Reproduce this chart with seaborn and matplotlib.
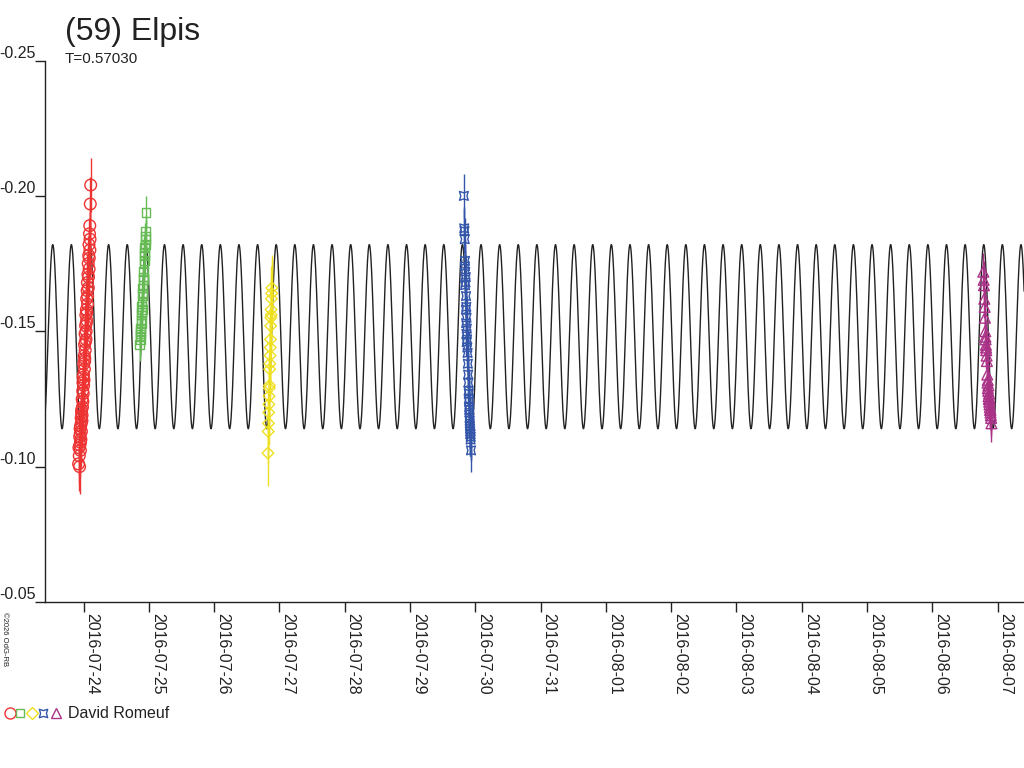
import numpy as np
import pandas as pd
import matplotlib
matplotlib.use("Agg")
import matplotlib.pyplot as plt
from matplotlib.path import Path
from matplotlib.lines import Line2D
import seaborn as sns

# Lightcurve of (59) Elpis - times in days from 2016-07-24 00:00 UT, relative magnitudes
base_date = pd.Timestamp("2016-07-24")
period = 0.57030
observer = "David Romeuf"

# model (2nd harmonic dominated fit)
model_mean = -0.148
model_amp = 0.034
model_epoch = 0.0995

red_t = [-0.075, -0.065, -0.060, -0.055, -0.050, -0.047, -0.044, -0.040, -0.036, -0.032,
         -0.028, -0.024, -0.020, -0.016, -0.012, -0.008, -0.004, 0.000, 0.004, 0.008,
         0.012, 0.016, 0.020, 0.024, 0.028, 0.032, 0.036, 0.040, 0.044, 0.048,
         0.052, 0.056, 0.060, 0.064, 0.068, 0.072, 0.076, 0.080, 0.084, 0.088,
         0.092, 0.096, 0.100, 0.104, 0.110,
         -0.070, -0.058, -0.046, -0.034, -0.022, -0.010, 0.002, 0.014, 0.026, 0.038,
         0.050, 0.062, 0.074, 0.086, 0.098, -0.052, -0.030, -0.006, 0.018, 0.042]
red_mag = [-0.101, -0.104, -0.100, -0.108, -0.112, -0.106, -0.115, -0.110, -0.118, -0.113,
           -0.121, -0.117, -0.125, -0.122, -0.128, -0.131, -0.127, -0.134, -0.138, -0.132,
           -0.141, -0.145, -0.140, -0.149, -0.146, -0.152, -0.156, -0.150, -0.158, -0.162,
           -0.157, -0.165, -0.168, -0.163, -0.171, -0.175, -0.170, -0.178, -0.182, -0.177,
           -0.186, -0.189, -0.184, -0.197, -0.204,
           -0.107, -0.111, -0.109, -0.116, -0.119, -0.124, -0.130, -0.136, -0.143, -0.147,
           -0.154, -0.160, -0.166, -0.173, -0.180, -0.114, -0.120, -0.133, -0.139, -0.153]

green_t = [0.860, 0.864, 0.868, 0.872, 0.876, 0.880, 0.884, 0.888, 0.892, 0.896,
           0.900, 0.904, 0.908, 0.912, 0.916, 0.920, 0.924, 0.928, 0.932, 0.936,
           0.940, 0.944, 0.948, 0.952, 0.958, 0.870, 0.890, 0.910, 0.930, 0.950]
green_mag = [-0.145, -0.148, -0.147, -0.151, -0.150, -0.154, -0.156, -0.153, -0.159, -0.161,
             -0.158, -0.164, -0.166, -0.163, -0.169, -0.172, -0.170, -0.175, -0.178, -0.176,
             -0.181, -0.184, -0.182, -0.187, -0.194, -0.149, -0.157, -0.167, -0.179, -0.185]

yellow_t = [2.825, 2.829, 2.833, 2.836, 2.839, 2.842, 2.845, 2.848, 2.851, 2.854,
            2.857, 2.860, 2.863, 2.866, 2.869, 2.872, 2.875, 2.878, 2.881, 2.885]
yellow_mag = [-0.105, -0.113, -0.116, -0.120, -0.123, -0.126, -0.129, -0.130, -0.136, -0.138,
              -0.141, -0.144, -0.147, -0.152, -0.155, -0.158, -0.156, -0.162, -0.164, -0.166]

blue_t = [5.825, 5.830, 5.834, 5.838, 5.842, 5.846, 5.850, 5.854, 5.858, 5.862,
          5.866, 5.870, 5.874, 5.878, 5.882, 5.886, 5.890, 5.894, 5.898, 5.902,
          5.906, 5.910, 5.914, 5.918, 5.922, 5.926, 5.930, 5.934,
          5.840, 5.844, 5.856, 5.860, 5.864, 5.868, 5.900, 5.904, 5.908, 5.912,
          5.916, 5.920, 5.924, 5.928]
blue_mag = [-0.200, -0.188, -0.187, -0.184, -0.176, -0.172, -0.168, -0.170, -0.163, -0.159,
            -0.155, -0.151, -0.147, -0.144, -0.142, -0.138, -0.134, -0.131, -0.128, -0.125,
            -0.122, -0.120, -0.117, -0.115, -0.113, -0.112, -0.111, -0.106,
            -0.174, -0.167, -0.158, -0.153, -0.149, -0.146, -0.127, -0.124, -0.121, -0.118,
            -0.116, -0.114, -0.112, -0.110]

magenta_t = [13.780, 13.785, 13.790, 13.795, 13.800, 13.805, 13.810, 13.815, 13.820, 13.825,
             13.830, 13.835, 13.840, 13.845, 13.850, 13.855, 13.860, 13.865, 13.870, 13.875,
             13.880, 13.885, 13.890, 13.895, 13.900, 13.905,
             13.812, 13.822, 13.848, 13.858, 13.868, 13.878, 13.888]
magenta_mag = [-0.172, -0.169, -0.167, -0.162, -0.159, -0.155, -0.150, -0.147, -0.145, -0.143,
               -0.141, -0.139, -0.134, -0.131, -0.129, -0.128, -0.126, -0.125, -0.124, -0.123,
               -0.122, -0.121, -0.120, -0.119, -0.118, -0.116,
               -0.148, -0.144, -0.132, -0.130, -0.127, -0.125, -0.121]

red_err, green_err, yellow_err, blue_err, magenta_err = 0.010, 0.006, 0.012, 0.008, 0.007

y_ticks = [-0.25, -0.20, -0.15, -0.10, -0.05]
tick_days = pd.date_range("2016-07-24", "2016-08-07", freq="D")

# custom notched-square marker for the blue session
pinch = Path([(-1, -1), (0, -0.7), (1, -1), (0.7, 0), (1, 1), (0, 0.7), (-1, 1), (-0.7, 0), (-1, -1)],
             [Path.MOVETO] + [Path.LINETO] * 7 + [Path.CLOSEPOLY])

sessions = [
    (red_t, red_mag, red_err, "#ee3333", "o", 70),
    (green_t, green_mag, green_err, "#66bb55", "s", 40),
    (yellow_t, yellow_mag, yellow_err, "#eee020", "D", 35),
    (blue_t, blue_mag, blue_err, "#3355aa", pinch, 40),
    (magenta_t, magenta_mag, magenta_err, "#aa3388", "^", 60),
]

sns.set_theme(style="white")
plt.rcParams["font.family"] = ["Liberation Sans", "DejaVu Sans"]

fig = plt.figure(figsize=(10.24, 7.68), dpi=100)
ax = fig.add_axes([45 / 1024, 166 / 768, 1 - 45 / 1024, 541.5 / 768])

# model curve
curve_t = np.linspace(-0.6, 14.45, 4000)
curve_mag = model_mean - model_amp * np.cos(4 * np.pi * (curve_t - model_epoch) / period)
sns.lineplot(x=curve_t, y=curve_mag, color="#222222", lw=1, ax=ax, sort=False, estimator=None)

for t, m, err, col, mk, size in sessions:
    ax.errorbar(t, m, yerr=err, fmt="none", ecolor=col, elinewidth=1, capsize=0, zorder=3)
    sns.scatterplot(x=t, y=m, marker=mk, s=size, color=col, facecolor="none",
                    edgecolor=col, linewidth=1, ax=ax, zorder=4)

ax.set_xlim(-0.5896, 14.403)
ax.set_ylim(-0.05, -0.25)
ax.set_xlabel("")
ax.set_ylabel("")

for side in ["top", "right"]:
    ax.spines[side].set_visible(False)
for side in ["left", "bottom"]:
    ax.spines[side].set_color("#222222")
    ax.spines[side].set_linewidth(1)

ax.set_yticks(y_ticks)
ax.set_yticklabels([])
ax.set_xticks([(d - base_date).days for d in tick_days])
ax.set_xticklabels([])
ax.tick_params(axis="both", direction="out", length=7, width=1, color="#222222",
               left=True, bottom=True)

for v in y_ticks:
    ax.annotate(f"{v:.2f}", xy=(0, v), xycoords=("axes fraction", "data"),
                xytext=(-9, 0), textcoords="offset pixels", ha="right", va="bottom",
                fontsize=11.5, color="#222222")

for d in tick_days:
    ax.annotate(d.strftime("%Y-%m-%d"), xy=((d - base_date).days, 0),
                xycoords=("data", "axes fraction"), xytext=(1, -11),
                textcoords="offset pixels", rotation=-90, ha="left", va="top",
                fontsize=11.5, color="#222222")

fig.text(65 / 1024, 1 - 40 / 768, "(59) Elpis", fontsize=23, color="#222222", va="baseline")
fig.text(65 / 1024, 1 - 63 / 768, f"T={period:.5f}", fontsize=11, color="#222222", va="baseline")
fig.text(1 / 1024, 1 - 612 / 768, "©2026 OdG-RB", fontsize=5.5, rotation=-90,
         ha="left", va="top", color="#222222")

# observer legend
leg_x = [10, 20, 32, 43, 56]
for (t, m, err, col, mk, size), lx in zip(sessions, leg_x):
    fig.add_artist(Line2D([lx / 1024], [1 - 713 / 768], transform=fig.transFigure,
                          marker=mk, markersize=np.sqrt(size) * 0.95, markerfacecolor="none",
                          markeredgecolor=col, markeredgewidth=1, linestyle="none"))
fig.text(68 / 1024, 1 - 718 / 768, observer, fontsize=11.5, color="#222222", va="baseline")

fig.savefig("out.png", dpi=100, facecolor="white")
